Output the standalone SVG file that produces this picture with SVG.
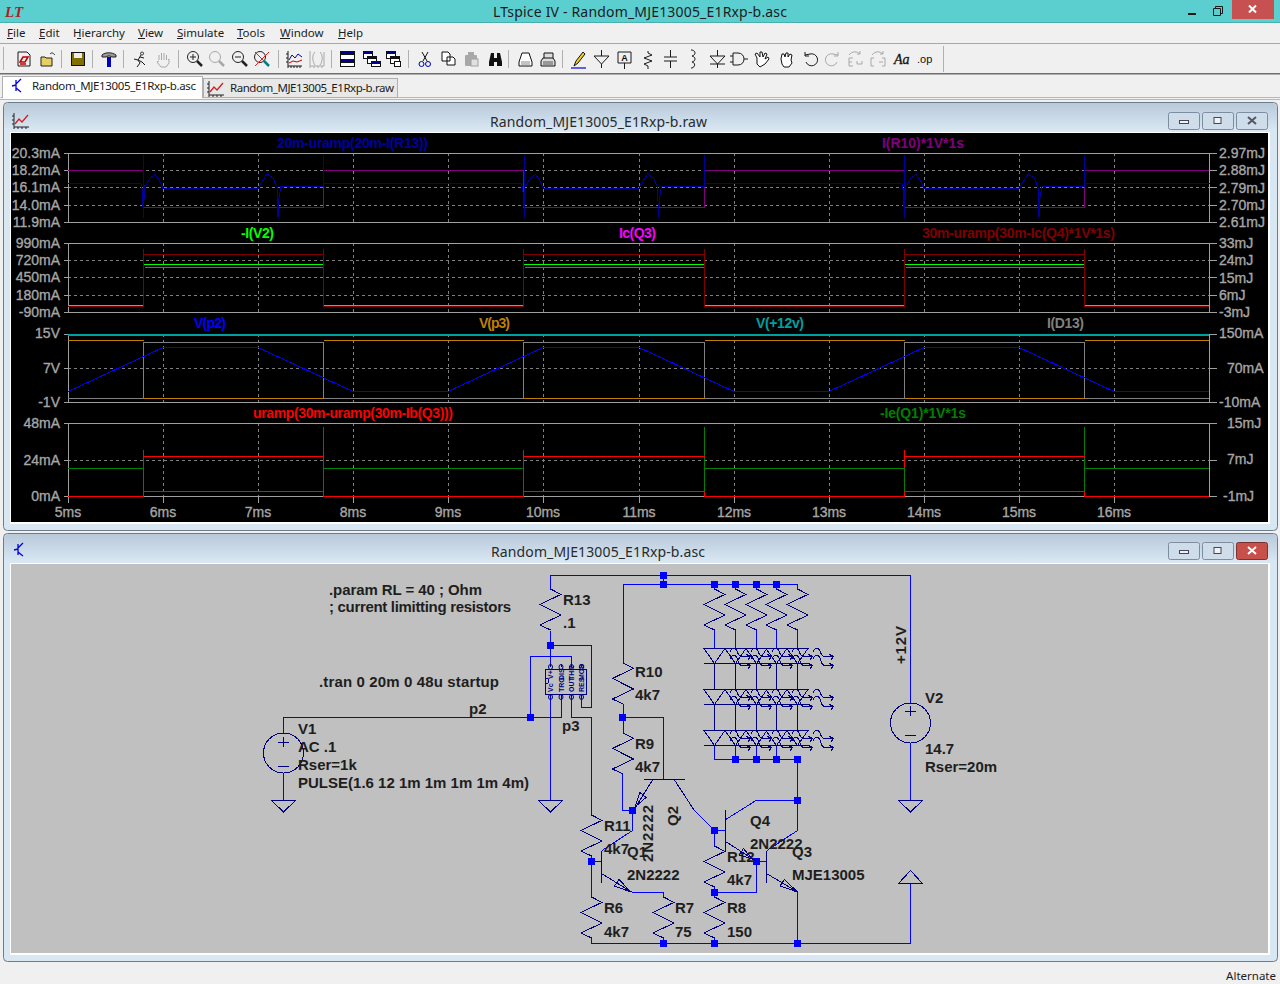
<svg xmlns="http://www.w3.org/2000/svg" xmlns:xlink="http://www.w3.org/1999/xlink" width="1280" height="984" viewBox="0 0 1280 984">
<style>
.ui{font-family:"Noto Sans","Liberation Sans",sans-serif;fill:#1c1c1c}
.m{font-size:11.5px}
.t{font-size:14px;fill:#2a2a2a}
.tab{font-size:11.5px;fill:#1c1c1c}
.ax{font-family:"Liberation Sans",Arial,sans-serif;font-size:14px;fill:#a6a6a6;stroke:#a6a6a6;stroke-width:.35}
.l{text-anchor:end}
.c{text-anchor:middle}
.tr{font-family:"Liberation Sans",Arial,sans-serif;font-size:14px;font-weight:bold}
.s{font-family:"Liberation Sans",Arial,sans-serif;font-size:15px;font-weight:bold;fill:#1e1e1e}
.tiny{font-family:"Liberation Sans",Arial,sans-serif;font-size:7px;font-weight:bold;fill:#000080}
.w{fill:none;stroke:#0000ff;stroke-width:1;shape-rendering:crispEdges}
.n{fill:none;stroke:#000080;stroke-width:1;shape-rendering:crispEdges}
.j{fill:#0000ff}
.fr{fill:none;stroke:#a0a0a0;stroke-width:1;shape-rendering:crispEdges}
.gd{fill:none;stroke:#808080;stroke-width:1;stroke-dasharray:3 3;shape-rendering:crispEdges}
.v{fill:none;stroke-width:1;shape-rendering:crispEdges}
.b2{fill:none;stroke-width:1.6;shape-rendering:crispEdges}
.ic{fill:none;stroke:#1a1a1a;stroke-width:1}
.ig{fill:none;stroke:#a8a8a8;stroke-width:1}
.btn{fill:#cfdcea;stroke:#7d8da0;stroke-width:1}
</style>
<defs>
<linearGradient id="tb" x1="0" y1="0" x2="0" y2="1"><stop offset="0" stop-color="#b8c9d9"/><stop offset="1" stop-color="#d9e7f3"/></linearGradient>
<path id="res" class="n" d="M0 0L10.5 5.4L-10.5 15.4L10.5 26L-10.5 36L0 41"/>
<path id="gnd" class="n" d="M-12 0H12L0 11.5Z"/>
<rect id="jn" class="j" x="-3.5" y="-3.5" width="7" height="7"/>
<g id="led">
<path class="n" d="M-10.5 0H10.5L0 15ZM-10.5 15H10.5"/>
<path class="n" d="M15 4C19 -3 21 -1 23 4C25 10 28 8 36 8M36 8L32 6M36 8L33 12"/>
<path class="n" d="M15 11C19 4 21 6 23 11C25 19 28 17 36 17M36 17L32 15M36 17L33 21"/>
</g>
<path id="pulse" class="v" stroke="#0000a0" d="M68 183.500H141L142.500 192V207M143.500 155V218M144 200V185L146 185L150 178L155 174.500L159 180L163 188.500H258L267 174L273 178L277 187L278 217L279 198L281 186.500H323.500V155V183.500H449"/>
</defs>

<rect width="1280" height="984" fill="#f0f0f0"/>

<g id="mainframe">
<rect x="0" y="0" width="1280" height="23" fill="#5bcfcf"/>
<rect x="0" y="22" width="1280" height="1" fill="#49aeae"/>
<text x="5" y="17" font-family="Liberation Serif,serif" font-size="15" font-weight="bold" font-style="italic" fill="#b02020">LT</text>
<text class="ui" x="640" y="17" text-anchor="middle" font-size="14" textLength="294" fill="#1f3f3f">LTspice IV - Random_MJE13005_E1Rxp-b.asc</text>
<rect x="1188" y="13" width="8" height="2" fill="#1a1a1a"/>
<path d="M1213.500 8.500h7v7h-7zM1215.500 8.500v-2h7v7h-2" fill="none" stroke="#1a1a1a"/>
<rect x="1232" y="0" width="42" height="19" fill="#c75050"/>
<path d="M1249 5.500l7 7M1256 5.500l-7 7" stroke="#fff" stroke-width="2" fill="none"/>
</g>

<g id="menu">
<rect x="0" y="43" width="1280" height="1" fill="#a8a8a8"/>
<text class="ui m" x="7" y="37">File</text><path d="M7 38.500h6" stroke="#1c1c1c"/>
<text class="ui m" x="39" y="37">Edit</text><path d="M39 38.500h6" stroke="#1c1c1c"/>
<text class="ui m" x="73" y="37">Hierarchy</text><path d="M77 38.500h4" stroke="#1c1c1c"/>
<text class="ui m" x="138" y="37">View</text><path d="M138 38.500h7" stroke="#1c1c1c"/>
<text class="ui m" x="177" y="37">Simulate</text><path d="M177 38.500h6" stroke="#1c1c1c"/>
<text class="ui m" x="237" y="37">Tools</text><path d="M237 38.500h6" stroke="#1c1c1c"/>
<text class="ui m" x="280" y="37">Window</text><path d="M280 38.500h10" stroke="#1c1c1c"/>
<text class="ui m" x="338" y="37">Help</text><path d="M338 38.500h7" stroke="#1c1c1c"/>
</g>

<g id="toolbar">
<rect x="0" y="73" width="1280" height="1.500" fill="#6e6e6e"/>
<path d="M3.500 47V70M61.500 50V68M92.500 50V68M123.500 50V68M178.500 50V68M278.500 50V68M331.500 50V68M408.500 50V68M508.500 50V68M562.500 50V68M943.500 46V72" stroke="#b0b0b0" shape-rendering="crispEdges"/>
<path class="ic" d="M18 52h9l3 3v11h-12z"/><path d="M20 62l3-5h5l-3 5zM20 64h6" stroke="#c00000" fill="none" stroke-width="1.500"/>
<path d="M41 57h4l1 1h6v8h-11z" fill="#e8d060" stroke="#222"/><path d="M50 54c2-2 3-1 5 1" fill="none" stroke="#222"/>
<rect x="71.500" y="52.500" width="13" height="13" fill="#807000" stroke="#111"/><rect x="74" y="53" width="8" height="5" fill="#eee"/>
<path d="M102 55c3-3 10-3 14 0v2h-4l-2-1h-2l-2 1h-4z" fill="#999" stroke="#222"/><rect x="107" y="57" width="4" height="10" fill="#0000c0"/>
<path class="ic" d="M142 52a1.500 1.500 0 1 0 .1 0M141 55l-3 5l-4-1M138 60l2 3l-3 4M138 60l4 2l3 3M140 57l4 1" stroke-width="1.500"/>
<path class="ig" d="M159 60v-5M161.500 60v-7M164 60v-7M166.500 60v-5M168 60l1-1v4l-3 4h-5l-4-5l2-1" />
<g fill="none" stroke="#222"><circle cx="193" cy="57" r="5.500"/><path d="M197 61l5 5" stroke-width="2.500"/><path d="M190 57h6M193 54v6"/>
<circle cx="238" cy="57" r="5.500"/><path d="M242 61l5 5" stroke-width="2.500"/><path d="M235 57h6"/>
<circle cx="260" cy="57" r="5.500"/><path d="M264 61l5 5" stroke-width="2.500" stroke="#008080"/><path d="M255 52l14 14M269 52l-14 14" stroke="#e02020"/></g>
<g fill="none" stroke="#a8a8a8"><circle cx="215" cy="57" r="5.500"/><path d="M219 61l5 5" stroke-width="2.500"/></g>
<path d="M288 51v15h14M288 66v2M291 66v2M294 66v2M297 66v2M300 66v2M286 54h2M286 58h2M286 62h2" class="ic"/><path d="M289 60l3-5l3 3l3-4l4 3" fill="none" stroke="#0000c0"/><path d="M289 63l4-2l4 1l5-2" fill="none" stroke="#d00000"/>
<path class="ig" d="M310 51v15h14M310 66v2M314 66v2M318 66v2M322 66v2M315 52c-3 3-3 9 0 13M320 52c3 3 3 9 0 13M324 52v14"/>
<g stroke="#111" shape-rendering="crispEdges"><rect x="340.500" y="51.500" width="14" height="15" fill="#fff"/><rect x="340.500" y="51.500" width="14" height="3" fill="#000090"/><rect x="340.500" y="59" width="14" height="3" fill="#000090"/>
<rect x="363.500" y="51.500" width="9" height="7" fill="#fff"/><rect x="363.500" y="51.500" width="9" height="2" fill="#000090"/><rect x="367.500" y="56.500" width="9" height="7" fill="#fff"/><rect x="367.500" y="56.500" width="9" height="2" fill="#000090"/><rect x="371.500" y="61.500" width="9" height="5" fill="#fff"/><rect x="371.500" y="61.500" width="9" height="2" fill="#000090"/>
<rect x="386.500" y="51.500" width="9" height="7" fill="#fff"/><rect x="386.500" y="51.500" width="9" height="2" fill="#000090"/><rect x="390.500" y="56.500" width="9" height="7" fill="#fff"/><rect x="390.500" y="56.500" width="9" height="2" fill="#000090"/><rect x="394.500" y="61.500" width="6" height="5" fill="#fff"/></g>
<path d="M422 52l5 9M428 52l-5 9" stroke="#111" fill="none"/><circle cx="421.500" cy="64" r="2.500" fill="none" stroke="#0000b0"/><circle cx="428" cy="64" r="2.500" fill="none" stroke="#0000b0"/>
<path d="M442 52h6l2 2v7h-8zM447 57h6l2 2v6h-8z" fill="#fff" stroke="#111"/>
<rect x="465" y="55" width="12" height="11" rx="1" fill="#a8a8a8"/><rect x="468" y="52" width="6" height="4" fill="#a8a8a8"/><rect x="471" y="59" width="7" height="7" fill="#e0e0e0" stroke="#a0a0a0"/>
<path d="M489 62l2-9h3v5h3v-5h3l2 9v4h-5v-4h-3v4h-5z" fill="#111"/>
<path d="M519 62l3-9h7l3 9v4h-13z" fill="#fff" stroke="#111"/><path d="M521 62h9M521 64h9" stroke="#888"/>
<path d="M541 61l2-3h10l2 3v5h-14zM544 58v-5h9v5" fill="#ddd" stroke="#111"/><path d="M543 62h10M543 64h10" stroke="#555"/>
<path d="M574 66l2-5l7-9l2 2l-7 9z" fill="#f0d020" stroke="#111"/><path d="M571 68h15" stroke="#0000d0" stroke-width="1.200"/>
<path class="ic" d="M601.500 50v6M594 56h15l-7.500 8zM601.500 64v4" /><path class="ic" d="M618 52h13v11h-13zM624.500 63v6"/><text x="624.500" y="61" text-anchor="middle" font-family="Liberation Sans,sans-serif" font-size="9" font-weight="bold" fill="#111">A</text>
<path class="ic" d="M648 51v2l4 2l-8 3l8 3l-8 3l4 2v3"/>
<path class="ic" d="M670.500 50v7M664 57h13M664 61h13M670.500 61v7"/>
<path class="ic" d="M691 50h1c4 1 4 5 0 6c4 1 4 5 0 6c4 1 3 5 0 6h-1"/>
<path class="ic" d="M717.500 50v6M710 56h15l-7.500 8zM710 64h15M717.500 64v4"/>
<path class="ic" d="M733 53h5c8 0 8 12 0 12h-5zM730 56h3M730 62h3M744 59h4"/>
<path d="M757 58l-2-4l2-1l3 4l0-5l2 0l1 5l2-4l2 1l-2 5l3-2l1 2l-4 5l-5 3l-3-3z" fill="#fff" stroke="#111"/>
<path d="M781 59l1-5h2l1 3l1-4h2l0 4l2-3l2 1l-1 5l1 3l-3 4h-5l-2-3z" fill="#fff" stroke="#111"/>
<path class="ic" d="M805 55l5-1a6 6 0 1 1 -4 8M805 52v4h4"/>
<path class="ig" d="M838 55l-5-1a6 6 0 1 0 4 8M838 52v4h-4"/>
<path class="ig" d="M849 66V58h4M849 62h3M849 66h4M857 64h5M857 61v3M862 61v3M849 55c3-4 8-4 11-1M860 51v3h-3"/>
<path class="ig" d="M871 66V58h3M871 66h3M885 66V58h-3M885 66h-3M883 62h-4M872 55c3-4 8-4 11-1M883 51v3h-3"/>
<text x="894" y="64" font-family="Liberation Serif,serif" font-style="italic" font-size="14" stroke="#111" stroke-width=".3" fill="#111">Aa</text>
<text x="917" y="63" font-family="Liberation Sans,sans-serif" font-size="11" fill="#111">.op</text>
</g>

<g id="tabs">
<path d="M0.500 97.500H1280M0 99.500H1280" stroke="#b8b8b8" fill="none"/>
<rect x="203.500" y="78.500" width="194" height="19" fill="#e8e8e8" stroke="#b0b0b0"/>
<rect x="2.500" y="76.500" width="200" height="21" fill="#fff" stroke="#b0b0b0"/><rect x="3" y="96" width="199" height="3" fill="#fff"/>
<path d="M16 80v11M16 85l-4 1M16 84l5-5M16 88l5 4" stroke="#0000e0" fill="none" stroke-width="1.300"/>
<text class="ui tab" x="32" y="90" textLength="164">Random_MJE13005_E1Rxp-b.asc</text>
<path d="M209 81v14h15M209 95v2M213 95v2M217 95v2M221 95v2M207 84h2M207 88h2M207 92h2" stroke="#222" fill="none"/><path d="M210 92l4-5l3 3l6-7" stroke="#d02020" fill="none" stroke-width="1.300"/>
<text class="ui tab" x="230" y="92" textLength="164">Random_MJE13005_E1Rxp-b.raw</text>
</g>

<g id="raw-window">
<rect x="3.500" y="102.500" width="1274" height="428" rx="4" fill="#d9e7f3" stroke="#6c7c8c"/>
<path d="M4 130V108a5 5 0 0 1 5-5H1272a5 5 0 0 1 5 5V130Z" fill="url(#tb)"/>
<path d="M14 113v14h15M14 127v2M18 127v2M22 127v2M26 127v2M12 116h2M12 120h2M12 124h2" stroke="#222" fill="none"/><path d="M15 124l4-5l3 3l6-7" stroke="#d02020" fill="none" stroke-width="1.300"/>
<text class="ui t" x="598.500" y="127" text-anchor="middle" textLength="217">Random_MJE13005_E1Rxp-b.raw</text>
<rect class="btn" x="1168.500" y="112.500" width="31" height="17" rx="2"/><rect class="btn" x="1202.500" y="112.500" width="31" height="17" rx="2"/><rect class="btn" x="1236.500" y="112.500" width="31" height="17" rx="2"/>
<rect x="1179.500" y="120.500" width="9" height="3" fill="#f0f4f8" stroke="#445"/><rect x="1214" y="117.500" width="7" height="6" fill="#f0f4f8" stroke="#445"/><path d="M1248 117l8 7M1256 117l-8 7" stroke="#556" stroke-width="2"/>
<rect x="10" y="132" width="1260" height="392" fill="#fff"/>
<rect x="11" y="133" width="1257" height="389" fill="#000"/>

<g id="grid">
<path class="gd" d="M68 170.500H1209M68 187.500H1209M68 205.500H1209M68 260.500H1209M68 277.500H1209M68 295.500H1209M68 368.500H1209M68 460.500H1209"/>
<path class="gd" d="M163.500 153V222M258.500 153V222M353.500 153V222M448.500 153V222M543.500 153V222M639.500 153V222M734.500 153V222M829.500 153V222M924.500 153V222M1019.500 153V222M1114.500 153V222"/>
<path class="gd" d="M163.500 243V312M258.500 243V312M353.500 243V312M448.500 243V312M543.500 243V312M639.500 243V312M734.500 243V312M829.500 243V312M924.500 243V312M1019.500 243V312M1114.500 243V312"/>
<path class="gd" d="M163.500 334V402M258.500 334V402M353.500 334V402M448.500 334V402M543.500 334V402M639.500 334V402M734.500 334V402M829.500 334V402M924.500 334V402M1019.500 334V402M1114.500 334V402"/>
<path class="gd" d="M163.500 423V496M258.500 423V496M353.500 423V496M448.500 423V496M543.500 423V496M639.500 423V496M734.500 423V496M829.500 423V496M924.500 423V496M1019.500 423V496M1114.500 423V496"/>
<path class="fr" d="M68.500 153.500H1209.500V222.500H68.500ZM68.500 243.500H1209.500V312.500H68.500ZM68.500 334.500H1209.500V402.500H68.500ZM68.500 423.500H1209.500V496.500H68.500Z"/>
<path class="fr" d="M64 153.500h4M64 170.500h4M64 187.500h4M64 205.500h4M64 222.500h4M64 243.500h4M64 260.500h4M64 277.500h4M64 295.500h4M64 312.500h4M64 334.500h4M64 368.500h4M64 402.500h4M64 423.500h4M64 460.500h4M64 496.500h4"/>
<path class="fr" d="M1210 153.500h7M1210 170.500h7M1210 187.500h7M1210 205.500h7M1210 222.500h7M1210 243.500h7M1210 260.500h7M1210 277.500h7M1210 295.500h7M1210 312.500h7M1210 334.500h7M1210 368.500h7M1210 402.500h7M1210 423.500h7M1210 460.500h7M1210 496.500h7"/>
<path class="fr" d="M68.500 497v6M163.500 497v6M258.500 497v6M353.500 497v6M448.500 497v6M543.500 497v6M639.500 497v6M734.500 497v6M829.500 497v6M924.500 497v6M1019.500 497v6M1114.500 497v6"/>
</g>

<g id="traces">
<path class="v" stroke="#800080" d="M68 170.500H143.500V207.500H323.500V170.500H523.500V207.500H704.500V170.500H904.500V207.500H1084.500V170.500H1209"/>
<use href="#pulse"/><use href="#pulse" transform="translate(380.500 0)"/><use href="#pulse" transform="translate(761 0)"/>
<path class="v" stroke="#800000" d="M68 306.500H143.500V249V254.500H323.500V249V306.500H523.500V249V254.500H704.500V249V306.500H904.500V249V254.500H1084.500V249V306.500H1209"/>
<path class="b2" stroke="#00ff00" d="M68 305.500H143M144 264.500H323M324 305.500H523M524 264.500H704M705 305.500H904M905 264.500H1084M1085 305.500H1209"/>
<path class="v" stroke="#ff00ff" d="M145 267.500H323M525 267.500H704M906 267.500H1084"/>
<path class="v" stroke="#808080" d="M68 398.500H143.500V342.500H323.500V398.500H523.500V342.500H704.500V398.500H904.500V342.500H1084.500V398.500H1209"/>
<path class="v" stroke="#bf8000" d="M68 340.500H143.500M143.500 398.500H323.500M323.500 340.500H523.500M523.500 398.500H704.500M704.500 340.500H904.500M904.500 398.500H1084.500M1084.500 340.500H1209"/>
<path d="M68 334.500H1209" stroke="#00a0a0" stroke-width="2" shape-rendering="crispEdges"/>
<path class="v" stroke="#0000ff" d="M68 391.500L163 347.500H258L353 391.500H448L543 347.500H639L734 391.500H829L924 347.500H1019L1114 391.500H1209"/>
<path class="v" stroke="#007f00" d="M68 468.500H143.500V491.500H323.500V427V468.500H523.500V491.500H704.500V427V468.500H904.500V491.500H1084.500V427V468.500H1209"/>
<path class="b2" stroke="#ff0000" d="M68 496.500H143.500V491.500M143.500 450V468M143.500 456.500H323.500M323.500 491.500V496.500H523.500V491.500M523.500 450V468M523.500 456.500H704.500M704.500 491.500V496.500H904.500V491.500M904.500 450V468M904.500 456.500H1084.500M1084.500 491.500V496.500H1209"/>
</g>

<g id="axis-labels">
<text class="ax l" x="60" y="158">20.3mA</text><text class="ax l" x="60" y="175">18.2mA</text><text class="ax l" x="60" y="192">16.1mA</text><text class="ax l" x="60" y="210">14.0mA</text><text class="ax l" x="60" y="227">11.9mA</text>
<text class="ax l" x="60" y="248">990mA</text><text class="ax l" x="60" y="265">720mA</text><text class="ax l" x="60" y="282">450mA</text><text class="ax l" x="60" y="300">180mA</text><text class="ax l" x="60" y="317">-90mA</text>
<text class="ax l" x="60" y="338">15V</text><text class="ax l" x="60" y="373">7V</text><text class="ax l" x="60" y="407">-1V</text>
<text class="ax l" x="60" y="428">48mA</text><text class="ax l" x="60" y="465">24mA</text><text class="ax l" x="60" y="501">0mA</text>
<text class="ax" x="1219" y="158">2.97mJ</text><text class="ax" x="1219" y="175">2.88mJ</text><text class="ax" x="1219" y="193">2.79mJ</text><text class="ax" x="1219" y="210">2.70mJ</text><text class="ax" x="1219" y="227">2.61mJ</text>
<text class="ax" x="1219" y="248">33mJ</text><text class="ax" x="1219" y="265">24mJ</text><text class="ax" x="1219" y="283">15mJ</text><text class="ax" x="1219" y="300">6mJ</text><text class="ax" x="1219" y="317">-3mJ</text>
<text class="ax" x="1219" y="338">150mA</text><text class="ax" x="1227" y="373">70mA</text><text class="ax" x="1219" y="407">-10mA</text>
<text class="ax" x="1227" y="428">15mJ</text><text class="ax" x="1227" y="464">7mJ</text><text class="ax" x="1223" y="501">-1mJ</text>
<text class="ax c" x="68" y="517">5ms</text><text class="ax c" x="163" y="517">6ms</text><text class="ax c" x="258" y="517">7ms</text><text class="ax c" x="353" y="517">8ms</text><text class="ax c" x="448" y="517">9ms</text><text class="ax c" x="543" y="517">10ms</text><text class="ax c" x="639" y="517">11ms</text><text class="ax c" x="734" y="517">12ms</text><text class="ax c" x="829" y="517">13ms</text><text class="ax c" x="924" y="517">14ms</text><text class="ax c" x="1019" y="517">15ms</text><text class="ax c" x="1114" y="517">16ms</text>
</g>

<g id="trace-labels">
<text class="tr" x="277" y="148" fill="#0000a0" textLength="151">20m-uramp(20m-I(R13))</text>
<text class="tr" x="882" y="148" fill="#800080" textLength="82">I(R10)*1V*1s</text>
<text class="tr" x="241" y="238" fill="#00ff00" textLength="33">-I(V2)</text>
<text class="tr" x="619" y="238" fill="#ff00ff" textLength="37">Ic(Q3)</text>
<text class="tr" x="922" y="238" fill="#800000" textLength="193">30m-uramp(30m-Ic(Q4)*1V*1s)</text>
<text class="tr" x="194" y="328" fill="#0000ff" textLength="32">V(p2)</text>
<text class="tr" x="479" y="328" fill="#bf8000" textLength="31">V(p3)</text>
<text class="tr" x="756" y="328" fill="#00a0a0" textLength="48">V(+12v)</text>
<text class="tr" x="1047" y="328" fill="#808080" textLength="37">I(D13)</text>
<text class="tr" x="253" y="418" fill="#ff0000" textLength="200">uramp(30m-uramp(30m-Ib(Q3)))</text>
<text class="tr" x="880" y="418" fill="#007f00" textLength="86">-Ie(Q1)*1V*1s</text>
</g>
</g>

<g id="schematic-window">
<rect x="3.500" y="533.500" width="1274" height="428" rx="4" fill="#d9e7f3" stroke="#6c7c8c"/>
<path d="M4 562V539a5 5 0 0 1 5-5H1272a5 5 0 0 1 5 5V562Z" fill="url(#tb)"/>
<path d="M18 544v11M18 549l-4 1M18 548l5-5M18 552l5 4" stroke="#0000e0" fill="none" stroke-width="1.300"/>
<text class="ui t" x="598" y="557" text-anchor="middle" textLength="214">Random_MJE13005_E1Rxp-b.asc</text>
<rect class="btn" x="1168.500" y="542.500" width="31" height="17" rx="2"/><rect class="btn" x="1202.500" y="542.500" width="31" height="17" rx="2"/><rect x="1236.500" y="542.500" width="31" height="17" rx="2" fill="#c7504a" stroke="#7d3030"/>
<rect x="1179.500" y="550.500" width="9" height="3" fill="#f0f4f8" stroke="#445"/><rect x="1214" y="547.500" width="7" height="6" fill="#f0f4f8" stroke="#445"/><path d="M1248 547l8 7M1256 547l-8 7" stroke="#fff" stroke-width="2"/>
<rect x="10" y="563" width="1260" height="392" fill="#fff"/>
<rect x="11" y="564" width="1257" height="389" fill="#c0c0c0"/>

<g id="connectors">
<path class="w" d="M550.500 589V575.500H910.500V703M663.500 575.500V584.500M623.500 663V584.500H797.500V589"/>
<path class="w" d="M714.500 584.500V589M735.500 584.500V589M756.500 584.500V589M776.500 584.500V589"/>
<path class="w" d="M550.500 631V645.500H591.500V707.500H581.500V698M550.500 645.500V664"/>
<path class="w" d="M530.500 717.500V656.500H571.500V664"/>
<path class="w" d="M283.500 733V717.500H561.500V698"/>
<path class="w" d="M571.500 698V717.500H591.500V815"/>
<path class="w" d="M550.500 698V800M283.500 773V800M910.500 743V800"/>
<path class="w" d="M623.500 704V733M623.500 717.500H663.500V779"/>
<path class="w" d="M622.500 774V810.500H632.500V830.500"/>
<path class="w" d="M591.500 856V897M591.500 861.500H601"/>
<path class="w" d="M591.500 938V943.500H910.500V883"/>
<path class="w" d="M631.500 892.500H663.500V897M663.500 938V943.500"/>
<path class="w" d="M714.500 830.500V846M714.500 830.500H725M714.500 887V897M714.500 892.500H756.500V861.500H766M714.500 938V943.500"/>
<path class="w" d="M725 820L756 800.500H797.500V759.500H714.500V746M797.500 800.500V830.500M797.500 892V943.500"/>
<path class="w" d="M735.500 746V759.500M756.500 746V759.500M776.500 746V759.500"/>
<path class="w" d="M694 810L714.500 830.500"/>
<path class="w" d="M632.500 830.500L602 850.500M797.500 830.500L767 850.500"/>
<path class="w" d="M714.500 630V648M735.500 630V648M756.500 630V648M776.500 630V648M797.500 630V648"/>
<path class="n" d="M714.500 663V689M735.500 663V689M756.500 663V689M776.500 663V689M797.500 663V689M714.500 705V730M735.500 705V730M756.500 705V730M776.500 705V730M797.500 705V730"/>
<g id="junctions">
<use href="#jn" x="663.500" y="575.500"/><use href="#jn" x="663.500" y="584.500"/><use href="#jn" x="714.500" y="584.500"/><use href="#jn" x="735.500" y="584.500"/><use href="#jn" x="756.500" y="584.500"/><use href="#jn" x="776.500" y="584.500"/>
<use href="#jn" x="550.500" y="645.500"/><use href="#jn" x="530.500" y="717.500"/><use href="#jn" x="622.500" y="717.500"/>
<use href="#jn" x="735.500" y="759.500"/><use href="#jn" x="756.500" y="759.500"/><use href="#jn" x="776.500" y="759.500"/><use href="#jn" x="797.500" y="759.500"/><use href="#jn" x="797.500" y="800.500"/>
<use href="#jn" x="632.500" y="810.500"/><use href="#jn" x="714.500" y="830.500"/><use href="#jn" x="591.500" y="861.500"/><use href="#jn" x="756.500" y="861.500"/><use href="#jn" x="714.500" y="892.500"/>
<use href="#jn" x="663.500" y="943.500"/><use href="#jn" x="714.500" y="943.500"/><use href="#jn" x="797.500" y="943.500"/>
</g>
</g>

<g id="notes">
<text class="s" x="329" y="595" textLength="153">.param RL = 40 ; Ohm</text>
<text class="s" x="329" y="612" textLength="182">; current limitting resistors</text>
<text class="s" x="319" y="687" textLength="180">.tran 0 20m 0 48u startup</text>
<text class="s" x="469" y="714">p2</text>
<text class="s" x="562" y="731">p3</text>
</g>

<g id="R13"><use href="#res" x="550.500" y="589"/><text class="s" x="563" y="605">R13</text><text class="s" x="563" y="628">.1</text></g>
<g id="R10"><use href="#res" x="623" y="663"/><text class="s" x="635" y="677">R10</text><text class="s" x="635" y="700">4k7</text></g>
<g id="R9"><use href="#res" x="623" y="733"/><text class="s" x="635" y="749">R9</text><text class="s" x="635" y="772">4k7</text></g>
<g id="R11"><use href="#res" x="591.500" y="815"/><text class="s" x="604" y="831">R11</text><text class="s" x="604" y="854">4k7</text></g>
<g id="R6"><use href="#res" x="591.500" y="897"/><text class="s" x="604" y="913">R6</text><text class="s" x="604" y="937">4k7</text></g>
<g id="R7"><use href="#res" x="663.500" y="897"/><text class="s" x="675" y="913">R7</text><text class="s" x="675" y="937">75</text></g>
<g id="R12"><use href="#res" x="714.500" y="846"/><text class="s" x="727" y="862">R12</text><text class="s" x="727" y="885">4k7</text></g>
<g id="R8"><use href="#res" x="714.500" y="897"/><text class="s" x="727" y="913">R8</text><text class="s" x="727" y="937">150</text></g>
<g id="led-resistors"><use href="#res" x="714.500" y="589"/><use href="#res" x="735.500" y="589"/><use href="#res" x="756.500" y="589"/><use href="#res" x="776.500" y="589"/><use href="#res" x="797.500" y="589"/></g>
<g id="leds">
<use href="#led" x="714.500" y="648.500"/><use href="#led" x="735.500" y="648.500"/><use href="#led" x="756.500" y="648.500"/><use href="#led" x="776.500" y="648.500"/><use href="#led" x="797.500" y="648.500"/>
<use href="#led" x="714.500" y="689.500"/><use href="#led" x="735.500" y="689.500"/><use href="#led" x="756.500" y="689.500"/><use href="#led" x="776.500" y="689.500"/><use href="#led" x="797.500" y="689.500"/>
<use href="#led" x="714.500" y="730.500"/><use href="#led" x="735.500" y="730.500"/><use href="#led" x="756.500" y="730.500"/><use href="#led" x="776.500" y="730.500"/><use href="#led" x="797.500" y="730.500"/>
</g>
<g id="U1">
<rect class="n" x="545.500" y="669.500" width="41" height="25"/>
<path class="n" d="M550.500 664v3M561 664v3M571.500 664v3M581.500 664v3M550.500 694v4M561 694v4M571.500 694v4M581.500 694v4M545.500 678a3 3 0 0 1 0 6"/>
<g fill="none" stroke="#000080"><ellipse cx="550.500" cy="667" rx="2" ry="2.500"/><ellipse cx="561" cy="667" rx="2" ry="2.500"/><ellipse cx="571.500" cy="667" rx="2" ry="2.500"/><ellipse cx="581.500" cy="667" rx="2" ry="2.500"/><ellipse cx="550.500" cy="697" rx="2" ry="2.500"/><ellipse cx="561" cy="697" rx="2" ry="2.500"/><ellipse cx="571.500" cy="697" rx="2" ry="2.500"/><ellipse cx="581.500" cy="697" rx="2" ry="2.500"/></g>
<text class="tiny" transform="translate(553 692) rotate(-90)">Vc</text><text class="tiny" transform="translate(553 679) rotate(-90)">V+</text>
<text class="tiny" transform="translate(563.500 692) rotate(-90)">TRG</text><text class="tiny" transform="translate(563.500 680) rotate(-90)">DIS</text>
<text class="tiny" transform="translate(574 692) rotate(-90)">OUT</text><text class="tiny" transform="translate(574 680) rotate(-90)">THR</text>
<text class="tiny" transform="translate(584 692) rotate(-90)">RES</text><text class="tiny" transform="translate(584 680) rotate(-90)">MOD</text>
</g>
<g id="V1"><circle class="n" cx="283.500" cy="753" r="20" shape-rendering="auto"/><path class="n" d="M278 742h11M283.500 737v10M278 766.500h11"/><text class="s" x="298" y="734">V1</text><text class="s" x="298" y="752">AC .1</text><text class="s" x="298" y="770">Rser=1k</text><text class="s" x="298" y="788" textLength="231">PULSE(1.6 12 1m 1m 1m 1m 4m)</text></g>
<g id="V2"><circle class="n" cx="910.500" cy="723" r="20" shape-rendering="auto"/><path class="n" d="M905 711h11M910.500 706v10M905 735.500h11"/><text class="s" x="925" y="703">V2</text><text class="s" x="925" y="754">14.7</text><text class="s" x="925" y="772">Rser=20m</text><text class="s" transform="translate(906 664) rotate(-90)" textLength="38">+12V</text></g>
<g id="grounds"><use href="#gnd" x="283.500" y="800.500"/><use href="#gnd" x="550.500" y="800.500"/><use href="#gnd" x="910.500" y="800.500"/><path class="n" d="M898.500 883.500H922.500L910.500 870.500Z"/></g>
<g id="Q1"><path class="n" d="M601.500 851V883M601.500 873.500L631.500 892"/><path class="n" d="M631 892L619 879.500L614.500 886Z"/><text class="s" x="627" y="857">Q1</text><text class="s" x="627" y="880">2N2222</text></g>
<g id="Q2"><path class="n" d="M643.500 779.500H685M652.500 780L635 808M674.500 780L694 810"/><path class="n" d="M635 807L640 792.500L646 797.500Z"/><text class="s" transform="translate(653 862) rotate(-90)" textLength="57">2N2222</text><text class="s" transform="translate(678 826) rotate(-90)">Q2</text></g>
<g id="Q4"><path class="n" d="M725.500 810V851M725.500 841.500L756 861"/><path class="n" d="M752 859L743.500 848.500L739.500 855Z"/><text class="s" x="750" y="826">Q4</text><text class="s" x="750" y="849">2N2222</text></g>
<g id="Q3"><path class="n" d="M766.500 851V883M766.500 873.500L797.500 892"/><path class="n" d="M797.500 892L784.500 879.500L780 886Z"/><text class="s" x="792" y="857">Q3</text><text class="s" x="792" y="880">MJE13005</text></g>
</g>

<g id="status">
<text class="ui" x="1276" y="980" text-anchor="end" font-size="11.5">Alternate</text>
</g>
</svg>
